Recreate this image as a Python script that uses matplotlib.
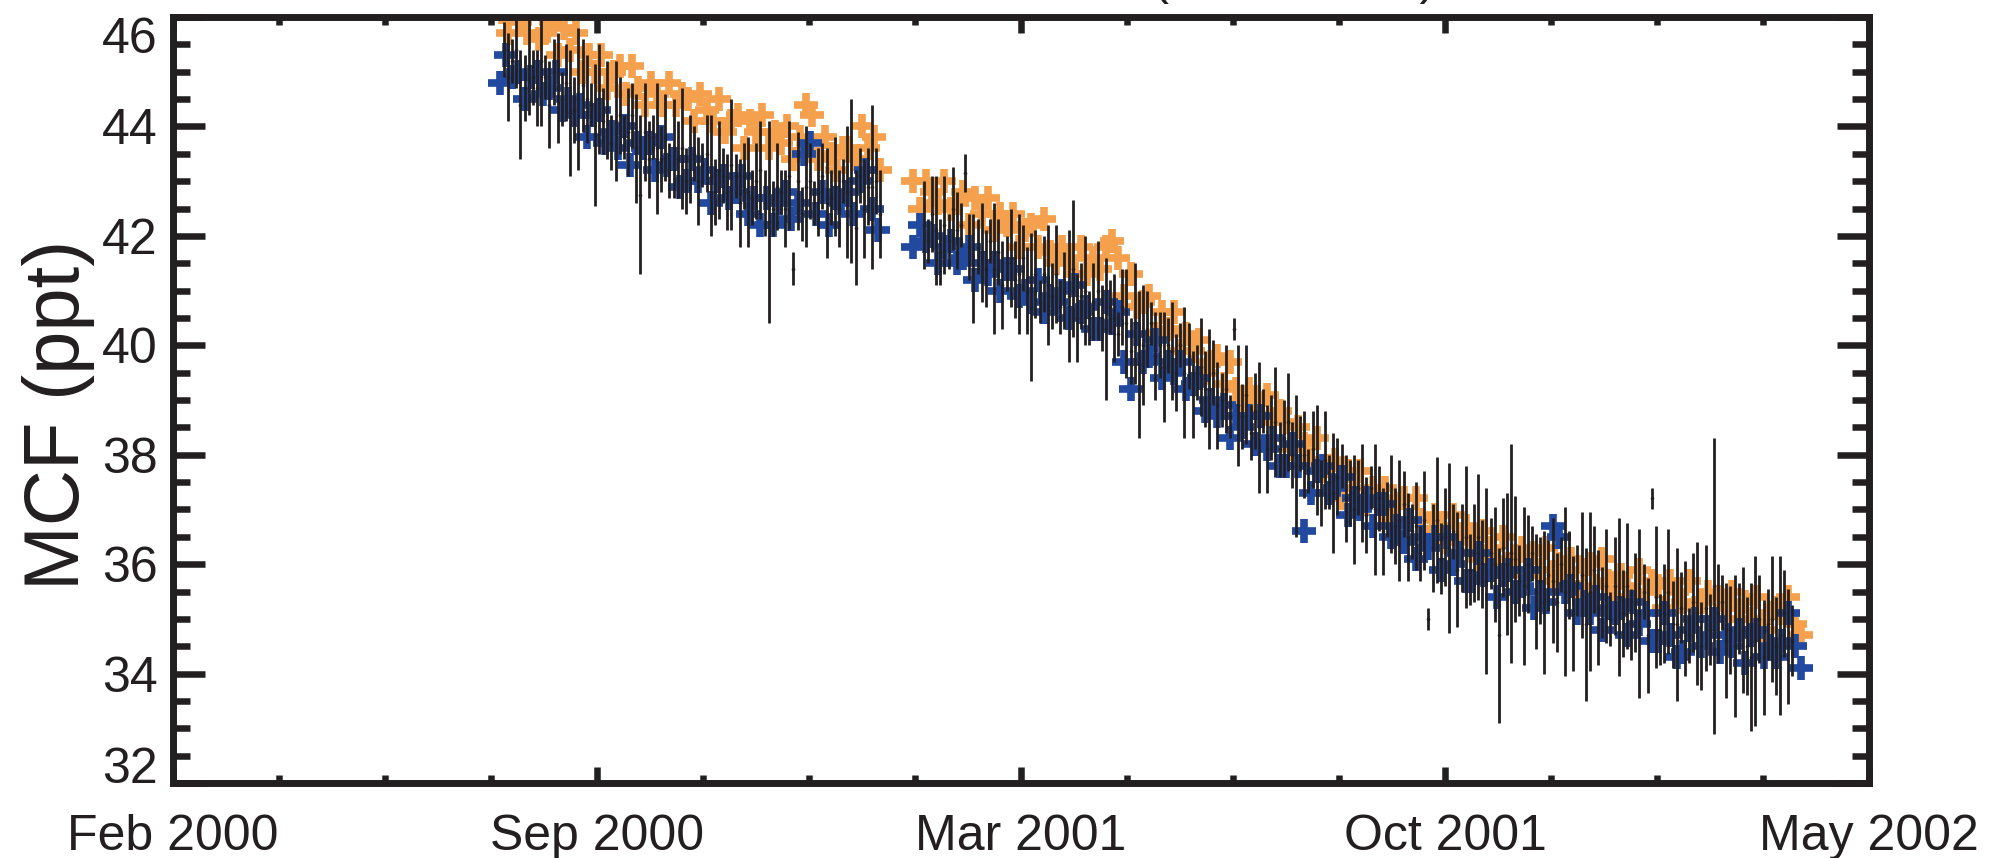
import numpy as np
import pandas as pd
import matplotlib
matplotlib.use('Agg')
import matplotlib.pyplot as plt
import matplotlib.dates as mdates
from matplotlib.ticker import MultipleLocator

plt.rcParams['font.family'] = ['Liberation Sans', 'DejaVu Sans']

# axis range and labels
x_start = '2000-02-15'
x_end = '2002-05-15'
x_ticklabels = ['Feb 2000', 'Sep 2000', 'Mar 2001', 'Oct 2001', 'May 2002']
y_ticks = [32, 34, 36, 38, 40, 42, 44, 46]
title_text = 'MCF (2000\u20132002)'
y_label = 'MCF (ppt)'

# orange series (every 3 days, two runs)
orange_start = ['2000-07-23', '2001-02-07']
orange_1 = [46.1, 45.7, 46.2, 45.9, 45.7, 46.2, 45.6, 45.7, 45.9, 45.3,
            45.8, 45.4, 45.7, 45.0, 45.3, 45.0, 45.3, 44.7, 45.0, 45.1,
            44.6, 45.1, 44.7, 44.4, 44.8, 44.6, 44.4, 44.8, 44.4, 44.6,
            44.5, 44.1, 44.6, 44.3, 44.1, 44.5, 43.9, 44.1, 44.2, 43.6,
            44.1, 43.9, 44.2, 43.6, 43.9, 43.7, 44.0, 43.4, 43.8, 44.4,
            44.2, 43.4, 43.8, 43.5, 43.2, 43.6, 43.6, 43.4, 44.0, 43.6,
            43.8, 43.2]
orange_2 = [43.0, 42.5, 43.0, 42.8, 42.6, 43.0, 42.5, 42.6, 42.8, 42.2,
            42.7, 42.4, 42.7, 42.1, 42.4, 42.2, 42.4, 41.8, 42.1, 42.2,
            41.8, 42.3, 41.7, 41.5, 41.8, 41.6, 41.3, 41.8, 41.3, 41.6,
            41.4, 41.8, 41.9, 41.6, 40.9, 41.3, 40.7, 40.8, 40.9, 40.2,
            40.6, 40.3, 40.6, 39.9, 40.2, 39.9, 40.1, 39.5, 39.7, 39.8,
            39.3, 39.7, 39.2, 38.9, 39.2, 39.0, 38.7, 39.1, 38.6, 38.8,
            38.6, 38.1, 38.5, 38.2, 37.9, 38.3, 37.7, 37.8, 37.9, 37.2,
            37.7, 37.4, 37.7, 37.1, 37.4, 37.2, 37.4, 36.8, 37.1, 37.2,
            36.8, 37.2, 36.8, 36.5, 36.9, 36.7, 36.4, 36.9, 36.4, 36.7,
            36.5, 36.1, 36.6, 36.3, 36.1, 36.5, 36.0, 36.1, 36.3, 35.8,
            36.2, 35.9, 36.3, 35.7, 36.0, 35.8, 36.1, 35.5, 35.9, 36.0,
            35.6, 36.1, 35.7, 35.4, 35.8, 35.6, 35.4, 35.9, 35.5, 35.7,
            35.6, 35.2, 35.7, 35.5, 35.3, 35.7, 35.2, 35.3, 35.5, 35.0,
            35.4, 35.2, 35.5, 35.0, 35.3, 35.0, 35.4, 34.8, 35.1, 35.2,
            35.1, 35.4, 34.9, 34.7]

# blue series (every 3 days, two runs)
blue_start = ['2000-07-22', '2001-02-07']
blue_1 = [44.8, 45.3, 44.9, 45.0, 44.5, 44.9, 45.0, 44.6, 44.7, 45.0,
          44.3, 44.5, 44.2, 44.4, 43.8, 44.2, 44.3, 43.7, 43.9, 43.6,
          44.0, 43.3, 43.7, 43.6, 43.7, 43.2, 43.8, 43.3, 43.4, 42.9,
          43.0, 43.4, 43.0, 43.2, 42.6, 43.0, 43.1, 42.7, 42.8, 43.1,
          42.4, 42.7, 42.2, 42.7, 42.2, 42.6, 42.8, 42.3, 42.6, 43.5,
          43.7, 42.4, 42.8, 42.2, 42.7, 42.6, 42.8, 42.4, 43.0, 43.2,
          42.5, 42.1]
blue_2 = [41.8, 42.2, 41.9, 42.0, 41.5, 41.8, 41.9, 41.5, 41.6, 41.8,
          41.2, 41.5, 41.3, 41.5, 41.0, 41.4, 41.4, 40.9, 41.0, 40.8,
          41.2, 40.6, 40.9, 40.8, 41.0, 40.5, 41.1, 40.6, 40.7, 40.3,
          40.3, 40.8, 40.4, 40.6, 39.7, 39.2, 40.2, 39.7, 39.8, 40.1,
          39.4, 39.7, 39.5, 39.7, 39.2, 39.3, 39.4, 38.8, 39.0, 38.7,
          38.9, 38.3, 38.7, 38.5, 38.7, 38.2, 38.7, 38.1, 38.3, 37.8,
          37.8, 38.2, 37.8, 36.6, 37.3, 37.7, 37.8, 37.3, 37.4, 37.6,
          36.9, 37.2, 37.0, 37.2, 36.7, 37.1, 37.1, 36.5, 36.7, 36.4,
          36.8, 36.1, 36.5, 36.3, 36.5, 35.9, 36.5, 36.0, 36.2, 35.7,
          35.7, 36.2, 35.8, 35.9, 35.4, 35.8, 35.9, 35.5, 35.6, 35.9,
          35.2, 35.5, 35.3, 36.7, 36.5, 35.5, 35.6, 35.1, 35.3, 35.1,
          35.4, 34.8, 35.2, 35.1, 35.2, 34.7, 35.3, 34.9, 35.1, 34.6,
          34.6, 35.1, 34.7, 34.3, 34.4, 34.8, 35.0, 34.5, 34.7, 35.0,
          34.4, 34.7, 34.5, 34.8, 34.2, 34.7, 34.8, 34.3, 34.5, 34.3,
          34.6, 35.1, 34.5, 34.1]

# black series with 1-sigma bars (every 2 days, two runs)
black_start = ['2000-07-24', '2001-02-12']
black_1 = [45.4, 44.9, 45.2, 45.4, 44.4, 44.7, 45.1, 44.9, 44.7, 45.2,
           44.9, 44.4, 45.0, 44.7, 44.5, 44.8, 44.25, 44.3, 44.5, 44.75,
           44.5, 44.4, 43.85, 44.5, 44.1, 44.3, 43.7, 44.1, 44.2, 43.8,
           43.9, 44.2, 43.6, 42.75, 43.9, 43.4, 43.8, 43.6, 43.4, 43.8,
           43.2, 43.6, 43.4, 43.6, 43.0, 43.4, 43.5, 43.0, 43.3, 43.5,
           43.1, 42.8, 43.2, 43.1, 42.8, 43.3, 43.1, 42.6, 43.1, 42.8,
           42.7, 43.0, 43.2, 42.6, 42.25, 42.5, 42.9, 42.8, 42.5, 43.1,
           41.4, 43.0, 42.4, 42.9, 43.0, 42.6, 42.8, 43.1, 42.6, 42.7,
           42.9, 42.5, 43.0, 42.8, 43.0, 42.15, 43.1, 42.5, 42.9, 42.9,
           43.0, 42.4]
black_err_1 = [0.5, 0.8, 0.4, 0.7, 1.0, 0.6, 0.9, 0.5, 0.7, 1.2,
               0.4, 0.8, 0.6, 1.0, 0.5, 0.7, 1.15, 0.6, 1.3, 0.85,
               0.8, 0.4, 1.3, 1.0, 0.6, 0.9, 0.5, 1.1, 0.7, 0.4,
               0.8, 0.6, 1.0, 1.45, 0.9, 0.7, 0.4, 1.2, 0.6, 0.8,
               0.5, 0.9, 0.7, 1.1, 0.6, 0.8,
               0.5, 0.8, 0.4, 0.7, 1.1, 0.6, 0.9, 0.5, 0.7, 1.2,
               0.4, 0.8, 0.6, 1.0, 0.5, 0.7, 0.9, 0.6, 1.85, 0.5,
               0.8, 0.4, 0.7, 1.0, 0.3, 0.9, 0.5, 1.1, 0.7, 0.4,
               0.8, 0.6, 1.0, 0.5, 0.9, 0.7, 0.4, 1.2, 1.5, 1.05,
               0.5, 0.9, 0.7, 1.5, 0.6, 0.8]
black_2 = [42.2, 41.9, 42.4, 42.1, 41.7, 42.2, 41.9, 42.5, 42.1, 42.2,
           43.15, 41.8, 41.4, 41.8, 41.7, 41.4, 41.9, 41.4, 41.7, 41.1,
           41.5, 41.6, 41.2, 41.3, 41.6, 41.0, 40.7, 41.3, 40.8, 41.3,
           41.1, 40.9, 41.3, 40.7, 41.0, 40.9, 41.4, 40.5, 40.9, 41.0,
           40.5, 40.8, 41.0, 40.5, 40.3, 40.7, 40.5, 40.2, 40.7, 40.4,
           39.9, 40.4, 39.65, 40.0, 40.3, 40.4, 39.8, 40.0, 39.6, 40.0,
           39.9, 39.5, 40.0, 39.5, 39.8, 39.1, 39.5, 39.6, 39.2, 39.2,
           39.5, 38.9, 39.0, 39.2, 38.7, 40.3, 38.9, 38.7, 39.1, 38.4,
           38.8, 38.5, 38.8, 38.1, 38.5, 38.6, 38.1, 38.3, 38.6, 38.0,
           37.8, 38.2, 38.0, 37.7, 38.1, 37.9, 37.3, 37.9, 37.5, 37.3,
           37.6, 37.8, 37.2, 37.3, 37.0, 37.4, 37.3, 36.9, 37.4, 37.0,
           37.2, 36.6, 37.0, 37.1, 36.7, 36.8, 37.1, 36.5, 36.6, 36.7,
           36.2, 36.8, 35.0, 36.3, 36.8, 36.1, 36.5, 36.3, 36.6, 35.9,
           36.3, 36.5, 35.9, 36.2, 36.5, 36.0, 35.7, 36.2, 36.0, 34.7,
           36.3, 36.0, 36.2, 36.1, 35.7, 35.6, 36.0, 36.2, 35.5, 35.7,
           35.3, 35.8, 35.7, 35.3, 36.0, 35.5, 35.8, 35.1, 35.7, 35.8,
           34.9, 35.5, 35.9, 35.2, 35.3, 35.6, 35.0, 35.6, 35.4, 35.1,
           35.6, 34.9, 35.3, 35.1, 35.5, 34.7, 37.2, 35.4, 34.8, 35.1,
           35.5, 34.9, 34.9, 35.2, 35.0, 34.7, 35.3, 35.1, 34.5, 35.2,
           34.8, 35.6, 35.1, 35.3, 34.6, 34.8, 34.5, 35.0, 34.8, 34.5,
           34.3, 34.6, 35.0, 34.3, 34.9, 35.0, 34.5, 34.7, 35.1, 34.5, 34.6]
black_err_2 = [0.8, 0.4, 0.7, 1.0, 0.6, 0.9, 0.5, 0.75, 0.7, 0.4,
               0.35, 0.6, 1.0, 0.5, 0.9, 0.7, 0.4, 1.2, 0.6, 0.8,
               0.5, 0.9, 0.7, 1.1, 0.6, 0.8, 1.35, 0.8, 0.4, 0.7,
               1.1, 0.6, 0.9, 0.5, 0.7, 1.2, 1.25, 0.8, 0.6, 1.0,
               0.5, 0.7, 0.9, 0.6, 1.3, 0.5, 0.8, 0.4, 0.7, 1.0,
               0.6, 1.1, 1.35, 1.1, 0.7, 0.4, 0.8, 0.6, 1.0, 0.5,
               0.9, 0.7, 0.4, 1.2, 0.6, 0.8, 0.5, 0.9, 0.7, 1.1,
               0.6, 0.8, 0.5, 0.8, 0.4, 0.2, 1.1, 0.6, 0.9, 0.5,
               0.7, 1.2, 0.4, 0.8, 0.6, 1.0, 0.5, 0.7, 0.9, 0.6,
               1.3, 0.5, 0.8, 0.4, 0.7, 1.0, 0.6, 0.9, 0.5, 1.1,
               0.7, 0.4, 0.8, 0.6, 1.0, 0.5, 0.9, 0.7, 0.4, 1.2,
               0.6, 0.8, 0.5, 0.9, 0.7, 1.1, 0.6, 0.8, 0.5, 0.8,
               0.5, 0.9, 0.2, 0.8, 1.15, 0.65, 0.9, 1.55, 0.5, 1.05,
               0.8, 1.3, 0.65, 0.9, 1.15, 0.8, 1.7, 0.65, 1.05, 1.6,
               0.9, 1.3, 2.0, 1.15, 0.65, 1.45, 0.9, 0.5, 1.05, 0.8,
               1.3, 0.65, 1.15, 0.9, 0.5, 1.55, 0.8, 1.05, 0.65, 1.15,
               1.4, 1.45, 0.8, 1.05, 0.65, 1.05, 0.5, 0.9, 1.45, 0.8,
               1.15, 0.65, 0.9, 1.55, 0.5, 1.05, 0.2, 1.3, 0.65, 0.9,
               1.15, 0.8, 1.4, 0.65, 1.05, 0.5, 0.9, 1.3, 0.8, 1.15,
               0.65, 2.7, 0.9, 0.5, 1.05, 0.8, 1.3, 0.65, 1.15, 0.9,
               1.35, 1.55, 0.8, 1.05, 0.65, 1.15, 0.9, 1.45, 0.8, 1.05, 0.65]

ink = '#231f20'
c_orange = '#f5a04c'
c_blue = '#2149a0'


def dates(start, n, step):
    return pd.date_range(start, periods=n, freq='%dD' % step)


fig = plt.figure(figsize=(19.9, 8.58), dpi=100)
ax = fig.add_axes([173 / 1990, 1 - 783 / 858, 1696 / 1990, 766 / 858])

plus_kw = dict(ls='none', marker='+', ms=17, mew=5.5)
for start, vals in zip(orange_start, [orange_1, orange_2]):
    ax.plot(dates(start, len(vals), 3), vals, color=c_orange, **plus_kw)
for start, vals in zip(blue_start, [blue_1, blue_2]):
    ax.plot(dates(start, len(vals), 3), vals, color=c_blue, **plus_kw)
for start, vals, errs in zip(black_start, [black_1, black_2], [black_err_1, black_err_2]):
    ax.errorbar(dates(start, len(vals), 2), vals, yerr=errs, fmt='o', ms=1.6,
                color=ink, ecolor=ink, elinewidth=2.0, capsize=0)

x0 = mdates.date2num(pd.Timestamp(x_start))
x1 = mdates.date2num(pd.Timestamp(x_end))
ax.set_xlim(x0, x1)
ax.set_xticks(np.linspace(x0, x1, len(x_ticklabels)))
ax.set_xticklabels(x_ticklabels)
ax.set_xticks(np.linspace(x0, x1, 4 * (len(x_ticklabels) - 1) + 1), minor=True)

ax.set_ylim(32, 46)
ax.set_yticks(y_ticks)
ax.yaxis.set_minor_locator(MultipleLocator(0.5))

for s in ax.spines.values():
    s.set_linewidth(5)
    s.set_color(ink)
ax.tick_params(which='both', direction='in', top=True, right=True,
               color=ink, labelcolor=ink, labelsize=36, width=4.7)
ax.tick_params(axis='y', which='major', length=23, pad=11)
ax.tick_params(axis='y', which='minor', length=12)
ax.tick_params(axis='x', which='major', length=11.5, pad=22)
ax.tick_params(axis='x', which='minor', length=5.8)

# keep the end labels inside the frame
yt = ax.yaxis.get_major_ticks()
yt[0].label1.set_va('baseline')
yt[-1].label1.set_va('top')

fig.text(22 / 1990, 1 - 415 / 858, y_label, rotation=90, ha='left', va='center',
         fontsize=56, color=ink)
fig.text(1030 / 1990, 1 + 5.5 / 858, title_text, ha='left', va='baseline',
         fontsize=36, color=ink)

fig.savefig('out.png', dpi=100)
